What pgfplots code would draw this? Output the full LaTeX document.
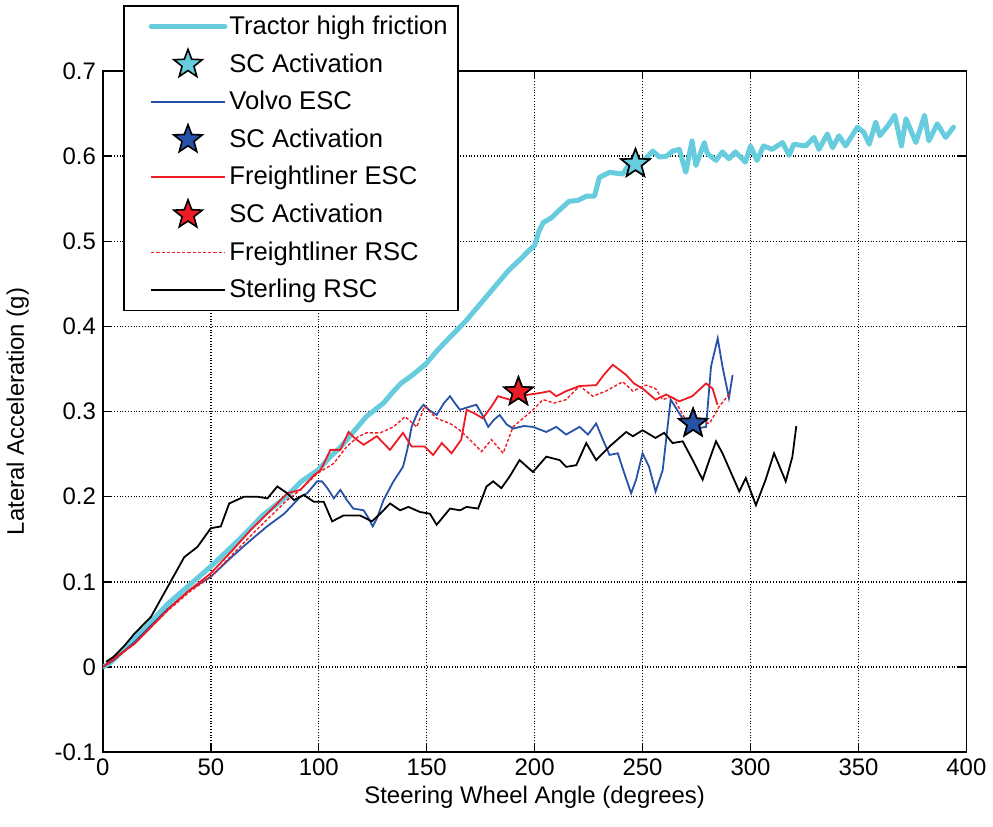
\documentclass[border=0pt]{standalone}
\usepackage{pgfplots}
\pgfplotsset{compat=1.18}
\usepackage{fontspec}
\setmainfont{Liberation Sans}
\definecolor{tcyan}{RGB}{102,204,222}
\definecolor{vblue}{RGB}{38,82,168}
\definecolor{fred}{RGB}{237,28,36}
\pgfdeclareplotmark{fstar}{%
  \pgfpathmoveto{\pgfqpointpolar{90}{\pgfplotmarksize}}%
  \pgfpathlineto{\pgfqpointpolar{126}{0.42\pgfplotmarksize}}%
  \pgfpathlineto{\pgfqpointpolar{162}{\pgfplotmarksize}}%
  \pgfpathlineto{\pgfqpointpolar{198}{0.42\pgfplotmarksize}}%
  \pgfpathlineto{\pgfqpointpolar{234}{\pgfplotmarksize}}%
  \pgfpathlineto{\pgfqpointpolar{270}{0.42\pgfplotmarksize}}%
  \pgfpathlineto{\pgfqpointpolar{306}{\pgfplotmarksize}}%
  \pgfpathlineto{\pgfqpointpolar{342}{0.42\pgfplotmarksize}}%
  \pgfpathlineto{\pgfqpointpolar{18}{\pgfplotmarksize}}%
  \pgfpathlineto{\pgfqpointpolar{54}{0.42\pgfplotmarksize}}%
  \pgfpathclose
  \pgfusepathqfillstroke
}
\pgfplotsset{
  starleg/.style={legend image code/.code={\path (0cm,0cm) (1.6cm,0cm); \draw[##1] plot coordinates {(0.95cm,0cm)};}},
  lineleg/.style={legend image code/.code={\path (0cm,0cm); \draw[##1] (0.3cm,0cm) -- (1.6cm,0cm);}},
}
\begin{document}
\begin{tikzpicture}
\begin{axis}[
  scale only axis, width=433pt, height=341.5pt,
  xmin=0, xmax=400, ymin=-0.1, ymax=0.7,
  xtick={0,50,...,400}, ytick={-0.1,0,0.1,0.2,0.3,0.4,0.5,0.6,0.7},
  yticklabels={-0.1,0,0.1,0.2,0.3,0.4,0.5,0.6,0.7},
  /pgf/number format/assume math mode=true,
  tick label style={font=\fontsize{12}{14}\selectfont},
  label style={font=\fontsize{12}{14}\selectfont},
  xlabel={Steering Wheel Angle (degrees)},
  ylabel={Lateral Acceleration (g)},
  xlabel style={yshift=2pt},
  ylabel style={yshift=6pt},
  grid=major, grid style={densely dotted, black, line width=0.7pt},
  axis line style={black, line width=0.9pt},
  tick align=inside, major tick length=4pt,
  tick style={black, line width=0.7pt},
  legend cell align=left,
  legend style={at={(axis description cs:0.023,1.097)}, anchor=north west,
    draw=black, line width=0.9pt, fill=white,
    font=\fontsize{12.85}{15}\selectfont, row sep=4.0pt,
    nodes={inner xsep=1pt},
    inner xsep=4pt, inner ysep=3pt},
  lineleg,
]
\addplot[tcyan, line width=2.5pt, line join=round, line cap=round] coordinates {
(0,0) (3,0.004) (8,0.016) (15,0.034) (22,0.052) (30,0.074) (40,0.096) (50,0.118) (60,0.142) (68,0.162) (74,0.178) (80,0.19) (85,0.2) (92,0.218) (100,0.232) (105,0.246) (110,0.258) (116,0.276) (122,0.294) (126,0.302) (130,0.31) (134,0.322) (138,0.333) (144,0.344) (150,0.357) (155,0.372) (161,0.388) (168,0.406) (176,0.43) (182,0.448) (188,0.466) (193,0.478) (197.7,0.49) (200,0.495) (202,0.512) (204,0.522) (208,0.528) (211.6,0.537) (216,0.547) (220,0.548) (224,0.553) (227.7,0.553) (230,0.575) (234.7,0.581) (240.8,0.579) (243.9,0.591) (247,0.592) (251,0.596) (254.7,0.606) (257.8,0.599) (261,0.600) (264,0.606) (267,0.608) (270,0.581) (272.9,0.618) (274.7,0.589) (278.6,0.616) (280,0.603) (284,0.595) (287,0.605) (290,0.597) (293,0.605) (297.6,0.593) (300,0.612) (303,0.595) (306,0.612) (310,0.608) (314.8,0.616) (317.9,0.601) (320,0.614) (325.6,0.612) (329.4,0.622) (331.7,0.608) (335.6,0.626) (338,0.61) (341,0.624) (344,0.612) (349.5,0.634) (352.5,0.628) (355,0.614) (358,0.64) (359.9,0.624) (363.7,0.636) (366.8,0.648) (369.9,0.612) (372,0.644) (376.6,0.616) (380.6,0.648) (382.6,0.618) (386.5,0.638) (390.4,0.622) (394,0.634)
};
\addlegendentry{Tractor high friction}
\addplot[only marks, mark=fstar, mark size=7.5pt, mark options={fill=tcyan, draw=black, line width=0.8pt}, starleg] coordinates {(246.7,0.591)};
\addlegendentry{SC Activation}
\addplot[vblue, line width=0.9pt] coordinates {
(0,0) (5,0.008) (15,0.03) (30,0.068) (40,0.09) (50,0.106) (60,0.13) (68.5,0.149) (76,0.165) (84,0.18) (91.5,0.2) (94.6,0.204) (99.2,0.218) (101.5,0.218) (104,0.21) (107,0.198) (110,0.208) (113,0.196) (116,0.186) (120.8,0.184) (123,0.175) (125,0.165) (127,0.175) (130,0.196) (134.6,0.218) (139,0.235) (141,0.255) (143,0.282) (146,0.3) (148.5,0.308) (151,0.302) (154.6,0.296) (158,0.31) (160.8,0.318) (163,0.31) (165.4,0.302) (169,0.305) (173,0.308) (176,0.295) (178.5,0.282) (181,0.29) (183.8,0.296) (187,0.285) (190,0.28) (195,0.283) (199.2,0.282) (205.4,0.276) (210,0.282) (214.6,0.273) (220.8,0.282) (224.7,0.273) (228.5,0.286) (231.6,0.267) (234.7,0.249) (238.5,0.251) (241.6,0.227) (244.7,0.204) (247,0.22) (250,0.251) (253,0.235) (256,0.206) (259.3,0.231) (263,0.314) (266,0.302) (270,0.286) (274.7,0.28) (279.4,0.282) (281.7,0.353) (284.8,0.386) (287,0.353) (290,0.316) (291.7,0.343)
};
\addlegendentry{Volvo ESC}
\addplot[only marks, mark=fstar, mark size=7.5pt, mark options={fill=vblue, draw=black, line width=0.8pt}, starleg] coordinates {(273.4,0.286)};
\addlegendentry{SC Activation}
\addplot[fred, line width=0.9pt] coordinates {
(0,0) (5,0.01) (14.6,0.027) (30,0.067) (40,0.09) (50,0.11) (60,0.137) (68.5,0.161) (77.7,0.184) (85.4,0.204) (91.5,0.208) (97.7,0.225) (100.8,0.231) (105.4,0.255) (110,0.255) (113.8,0.276) (117,0.268) (120.8,0.261) (126.9,0.271) (133,0.255) (139,0.275) (143,0.259) (149,0.259) (153,0.249) (157,0.263) (161.5,0.251) (166,0.267) (168.5,0.302) (172,0.298) (176,0.292) (180,0.306) (183,0.318) (188.5,0.314) (193,0.318) (197.7,0.32) (203,0.322) (207,0.324) (210,0.318) (214.6,0.324) (220.8,0.33) (228.5,0.331) (232,0.343) (236.2,0.355) (242.4,0.343) (246,0.333) (250,0.327) (256,0.314) (260.9,0.32) (267,0.312) (273,0.318) (279.4,0.333) (282.4,0.327) (284.7,0.308)
};
\addlegendentry{Freightliner ESC}
\addplot[only marks, mark=fstar, mark size=7.5pt, mark options={fill=fred, draw=black, line width=0.8pt}, starleg] coordinates {(192.5,0.323)};
\addlegendentry{SC Activation}
\addplot[fred, line width=0.7pt, dash pattern=on 1.6pt off 1pt] coordinates {
(0,0) (5,0.008) (15,0.028) (30,0.066) (40,0.088) (50,0.106) (60,0.132) (70,0.158) (78,0.178) (85.4,0.196) (91.5,0.208) (99.2,0.227) (106.9,0.239) (113,0.259) (118,0.27) (122,0.275) (128.5,0.275) (134.6,0.282) (140,0.294) (145.4,0.282) (149,0.306) (154.6,0.292) (160.8,0.286) (165.4,0.278) (170,0.267) (175.4,0.253) (180,0.267) (185.4,0.251) (190,0.282) (199.2,0.302) (203.9,0.314) (209,0.31) (214.6,0.314) (220.8,0.33) (227,0.318) (233,0.324) (240.8,0.335) (245.5,0.324) (251.6,0.331) (256,0.327) (259.3,0.314) (263.9,0.318) (270,0.29) (276,0.288) (281,0.286) (285.5,0.306) (290,0.32) (291,0.322)
};
\addlegendentry{Freightliner RSC}
\addplot[black, line width=0.9pt] coordinates {
(1.5,0.006) (5,0.012) (10,0.025) (14.6,0.039) (22.3,0.059) (30,0.094) (37.7,0.129) (43.8,0.141) (50,0.163) (54.6,0.165) (58.5,0.192) (65.4,0.2) (71.5,0.2) (76.2,0.198) (80.8,0.212) (85.4,0.204) (88.5,0.196) (93.1,0.202) (97.7,0.194) (102.3,0.194) (106.2,0.171) (111.5,0.178) (119,0.178) (124.6,0.171) (128.5,0.18) (133,0.192) (137.7,0.184) (141.5,0.188) (146.9,0.182) (151.5,0.18) (154.6,0.167) (160.8,0.186) (165.4,0.184) (168.5,0.188) (173.8,0.186) (177.7,0.212) (180.8,0.218) (184.6,0.21) (188.5,0.224) (193,0.243) (199.2,0.229) (205.4,0.247) (211.6,0.243) (214.6,0.235) (219.3,0.237) (223.9,0.263) (228.5,0.243) (234.7,0.259) (242.4,0.276) (245.5,0.271) (250,0.278) (256,0.269) (260,0.275) (263.9,0.263) (268.6,0.265) (273.2,0.243) (277.8,0.22) (280.9,0.243) (284,0.265) (287,0.251) (294.8,0.206) (297.8,0.222) (302.5,0.19) (307,0.22) (310.9,0.251) (316.3,0.218) (319.4,0.247) (321.2,0.283)
};
\addlegendentry{Sterling RSC}
\addplot[forget plot, only marks, mark=fstar, mark size=7.5pt, mark options={fill=tcyan, draw=black, line width=0.8pt}] coordinates {(246.7,0.591)};
\addplot[forget plot, only marks, mark=fstar, mark size=7.5pt, mark options={fill=vblue, draw=black, line width=0.8pt}] coordinates {(273.4,0.286)};
\addplot[forget plot, only marks, mark=fstar, mark size=7.5pt, mark options={fill=fred, draw=black, line width=0.8pt}] coordinates {(192.5,0.323)};
\end{axis}
\path (current bounding box.south) ++(0,-6pt);
\path (current bounding box.north) ++(0,2.5pt);
\end{tikzpicture}
\end{document}
